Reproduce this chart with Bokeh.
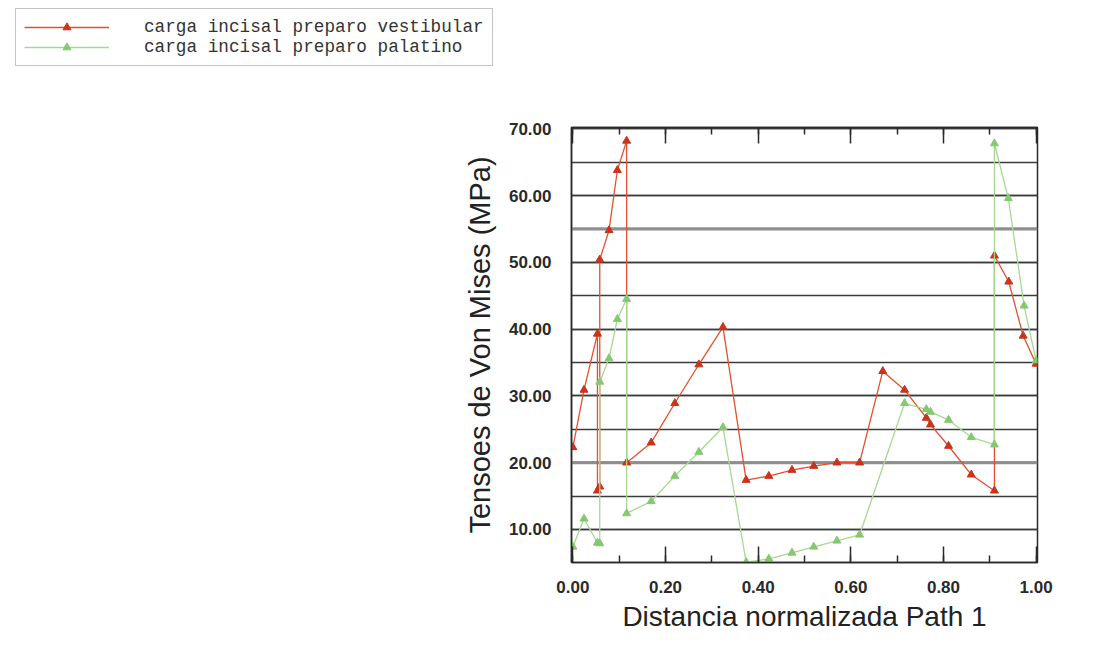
from bokeh.plotting import figure
from bokeh.layouts import column
from bokeh.models import (Range1d, LinearAxis, SingleIntervalTicker, NumeralTickFormatter,
                          Legend, LegendItem, Span)
from bokeh.embed import file_html
from bokeh.resources import INLINE

# Von Mises stress along the normalised path (Path 1)
x_vestibular = [0.000, 0.024, 0.053, 0.053, 0.058, 0.058, 0.078, 0.096, 0.116, 0.116,
                0.169, 0.220, 0.272, 0.324, 0.374, 0.423, 0.473, 0.520, 0.570, 0.619,
                0.669, 0.716, 0.763, 0.772, 0.811, 0.860, 0.910, 0.910, 0.941, 0.972, 1.000]
y_vestibular = [22.3, 30.9, 39.3, 15.8, 16.4, 50.4, 54.8, 63.8, 68.2, 20.0,
                23.0, 28.9, 34.7, 40.3, 17.4, 18.0, 18.9, 19.5, 20.0, 20.0,
                33.7, 30.9, 26.7, 25.7, 22.5, 18.2, 15.8, 51.0, 47.1, 39.0, 34.8]

x_palatino = [0.000, 0.024, 0.053, 0.058, 0.058, 0.078, 0.096, 0.116, 0.116, 0.169,
              0.220, 0.272, 0.324, 0.374, 0.423, 0.473, 0.520, 0.570, 0.619, 0.716,
              0.763, 0.772, 0.811, 0.860, 0.910, 0.910, 0.940, 0.974, 1.000]
y_palatino = [7.4, 11.6, 8.0, 7.9, 32.1, 35.6, 41.5, 44.5, 12.4, 14.2,
              18.0, 21.6, 25.3, 5.1, 5.6, 6.5, 7.4, 8.3, 9.2, 28.9,
              28.0, 27.6, 26.4, 23.8, 22.7, 67.8, 59.6, 43.5, 35.3]

series_labels = ["carga incisal preparo vestibular", "carga incisal preparo palatino"]
x_title = "Distancia normalizada Path 1"
y_title = "Tensoes de Von Mises (MPa)"
highlighted_levels = [20, 55]

RED_LINE, RED_MARK = "#e2502e", "#c8341c"
GREEN_LINE, GREEN_MARK = "#a6d98f", "#86c872"
INK = "#2a2a2a"
GRID = "#3c3c3c"
LEGEND_H = 70

line_style = dict(line_width=1.3)
mark_style = dict(marker="triangle", size=8)

# ---- legend strip across the top of the page ----
# its y range sits below every stress value, so only the legend itself shows
key = figure(width=1099, height=LEGEND_H, output_backend="svg", toolbar_location=None,
             x_range=Range1d(0, 1), y_range=Range1d(-2, -1),
             x_axis_type=None, y_axis_type=None,
             min_border=0, min_border_left=0, min_border_right=0,
             min_border_top=0, min_border_bottom=0)
key.grid.visible = False
key.outline_line_color = None
key.background_fill_color = "white"
key.border_fill_color = "white"

k_r_line = key.line(x_vestibular, y_vestibular, line_color=RED_LINE, **line_style)
k_r_pts = key.scatter(x_vestibular, y_vestibular, fill_color=RED_MARK, line_color=RED_MARK,
                      **mark_style)
k_g_line = key.line(x_palatino, y_palatino, line_color=GREEN_LINE, **line_style)
k_g_pts = key.scatter(x_palatino, y_palatino, fill_color=GREEN_MARK, line_color=GREEN_MARK,
                      **mark_style)

legend = Legend(items=[LegendItem(label=series_labels[0], renderers=[k_r_line, k_r_pts]),
                       LegendItem(label=series_labels[1], renderers=[k_g_line, k_g_pts])],
                location=(15, LEGEND_H - 66), margin=0, padding=8, spacing=0,
                glyph_width=85, glyph_height=20, label_height=20, label_standoff=35,
                label_text_font="Liberation Mono", label_text_font_size="17.7px",
                label_text_color="#333333", border_line_color="#8a8a8a",
                border_line_width=1.5, background_fill_color="white",
                background_fill_alpha=1.0)
key.add_layout(legend)

# ---- main chart ----
p = figure(width=1099, height=655 - LEGEND_H, output_backend="svg", toolbar_location=None,
           x_range=Range1d(-0.003, 1.003), y_range=Range1d(5.05, 70.2),
           min_border_left=571, min_border_right=62, min_border_top=127 - LEGEND_H,
           min_border_bottom=93, x_axis_label=x_title, y_axis_label=y_title)
p.background_fill_color = "white"
p.border_fill_color = "white"
p.outline_line_color = INK
p.outline_line_width = 1.5

# the two stacked figures keep their own frames
for fig in (key, p):
    if "frame_align" in fig.properties():
        fig.frame_align = False

x_ticker = SingleIntervalTicker(interval=0.2, num_minor_ticks=2)
y_ticker = SingleIntervalTicker(interval=10, num_minor_ticks=2)

# bottom axis
xa = p.xaxis[0]
xa.ticker = x_ticker
xa.formatter = NumeralTickFormatter(format="0.00")
xa.major_tick_in = 16
xa.major_tick_out = 0
xa.minor_tick_in = 7
xa.minor_tick_out = 0
xa.major_tick_line_color = INK
xa.minor_tick_line_color = INK
xa.major_tick_line_width = 1.5
xa.minor_tick_line_width = 1.5
xa.axis_line_color = INK
xa.axis_line_width = 1.5
xa.major_label_standoff = 18
xa.axis_label_standoff = 5

# left axis
ya = p.yaxis[0]
ya.ticker = y_ticker
ya.formatter = NumeralTickFormatter(format="0.00")
ya.major_tick_in = 0
ya.major_tick_out = 0
ya.minor_tick_in = 0
ya.minor_tick_out = 0
ya.axis_line_color = INK
ya.axis_line_width = 1.5
ya.major_label_standoff = 20
ya.axis_label_standoff = 10

for ax in (xa, ya):
    ax.major_label_text_font = "Liberation Sans"
    ax.major_label_text_font_style = "bold"
    ax.major_label_text_font_size = "17px"
    ax.major_label_text_color = INK
    ax.axis_label_text_font = "Liberation Sans"
    ax.axis_label_text_font_style = "normal"
    ax.axis_label_text_color = "#222222"
xa.axis_label_text_font_size = "28px"
ya.axis_label_text_font_size = "29px"

# mirrored tick marks along the top edge
top = LinearAxis(ticker=x_ticker, major_label_text_color=None, major_label_text_font_size="0px",
                 major_tick_in=16, major_tick_out=0, minor_tick_in=7, minor_tick_out=0,
                 major_tick_line_color=INK, minor_tick_line_color=INK,
                 major_tick_line_width=1.5, minor_tick_line_width=1.5,
                 axis_line_color=INK, axis_line_width=1.5)
p.add_layout(top, "above")

# horizontal grid every 5 MPa
p.xgrid.grid_line_color = None
p.ygrid.ticker = y_ticker
p.ygrid.grid_line_color = GRID
p.ygrid.grid_line_width = 1.6
p.ygrid.minor_grid_line_color = GRID
p.ygrid.minor_grid_line_width = 1.6
for lvl in highlighted_levels:
    p.add_layout(Span(location=lvl, dimension="width", line_color="#8e8e8e",
                      line_width=3, level="underlay"))

p.line(x_vestibular, y_vestibular, line_color=RED_LINE, **line_style)
p.scatter(x_vestibular, y_vestibular, fill_color=RED_MARK, line_color=RED_MARK, **mark_style)
p.line(x_palatino, y_palatino, line_color=GREEN_LINE, **line_style)
p.scatter(x_palatino, y_palatino, fill_color=GREEN_MARK, line_color=GREEN_MARK, **mark_style)

page = column(key, p, spacing=0)
open("out.html", "w").write(file_html(page, INLINE))
